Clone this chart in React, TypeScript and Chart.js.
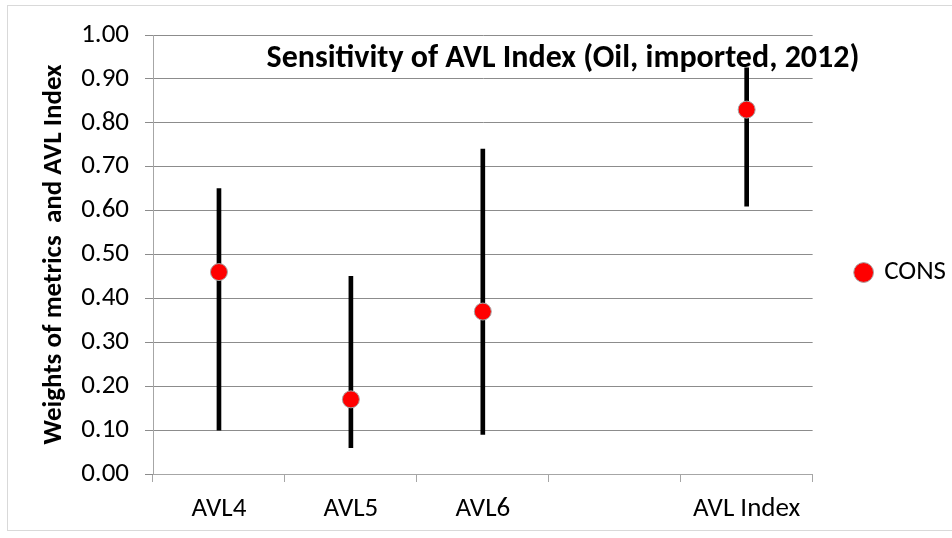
import React, { useEffect, useRef } from "react";
import { Chart, registerables } from "chart.js";

Chart.register(...registerables);

const categories = ["AVL4", "AVL5", "AVL6", "", "AVL Index"];
const consValues = [0.46, 0.17, 0.37, null, 0.83];
const rangeLow = [0.10, 0.06, 0.09, null, 0.61];
const rangeHigh = [0.65, 0.45, 0.74, null, 0.925];
const yTicks = [0, 0.1, 0.2, 0.3, 0.4, 0.5, 0.6, 0.7, 0.8, 0.9, 1.0];
const chartTitle = "Sensitivity of AVL Index (Oil, imported, 2012)";
const yTitle = "Weights of metrics  and AVL Index";
const seriesName = "CONS";

const FONT = "Carlito, Calibri, Lato, sans-serif";

const titlePlugin = {
  id: "innerTitle",
  afterLayout(chart: any) {
    const lg = chart.legend;
    if (lg) {
      lg.left += 34;
      lg.right += 34;
      lg.bottom -= 28;
    }
  },
  afterDraw(chart: any) {
    const { ctx, chartArea } = chart;
    ctx.save();
    ctx.font = `bold 32px ${FONT}`;
    ctx.fillStyle = "#000";
    ctx.textAlign = "center";
    ctx.textBaseline = "middle";
    ctx.fillText(chartTitle, 563, chartArea.top + 24);
    ctx.restore();
  },
};

export default function App() {
  const ref = useRef<HTMLCanvasElement>(null);
  useEffect(() => {
    const ranges = rangeLow.map((lo, i) =>
      lo === null || rangeHigh[i] === null ? null : [lo, rangeHigh[i]]
    );
    const chart = new Chart(ref.current as HTMLCanvasElement, {
      type: "bar",
      data: {
        labels: categories,
        datasets: [
          {
            type: "line",
            label: seriesName,
            data: consValues as any,
            showLine: false,
            pointRadius: 8.5,
            pointHoverRadius: 8.5,
            pointBackgroundColor: "#ff0000",
            pointBorderColor: "#a6a6a6",
            pointBorderWidth: 1,
            backgroundColor: "#ff0000",
            borderColor: "#a6a6a6",
            borderWidth: 1,
            order: 0,
          } as any,
          {
            type: "bar",
            label: "range",
            data: ranges as any,
            backgroundColor: "#000",
            barThickness: 4,
            grouped: false,
            order: 1,
          } as any,
        ],
      },
      options: {
        animation: false,
        responsive: false,
        maintainAspectRatio: false,
        layout: { padding: { top: 35, right: 30, bottom: 0, left: 0 } },
        plugins: {
          tooltip: { enabled: false },
          title: { display: false },
          legend: {
            position: "right",
            labels: {
              usePointStyle: true,
              pointStyle: "circle",
              boxWidth: 14,
              boxHeight: 14,
              padding: 10,
              color: "#000",
              font: { family: FONT, size: 27 },
              filter: (item: any) => item.text === seriesName,
            },
          },
        },
        scales: {
          x: {
            offset: true,
            afterFit: (s: any) => {
              s.height = 64;
            },
            grid: {
              display: true,
              offset: true,
              drawOnChartArea: false,
              drawTicks: true,
              tickLength: 8,
              color: "#a6a6a6",
            },
            border: { color: "#a6a6a6", width: 1 },
            ticks: {
              color: "#000",
              padding: 11,
              font: { family: FONT, size: 27 },
              maxRotation: 0,
            },
          },
          y: {
            min: 0,
            max: 1,
            afterFit: (s: any) => {
              s.width = 153;
            },
            afterBuildTicks: (s: any) => {
              s.ticks = yTicks.map((v) => ({ value: v }));
            },
            ticks: {
              color: "#000",
              padding: 16,
              font: { family: FONT, size: 27 },
              callback: (v: any) => Number(v).toFixed(2),
            },
            grid: {
              color: "#8c8c8c",
              tickLength: 8,
            },
            border: { color: "#a6a6a6", width: 1 },
            title: {
              display: true,
              text: yTitle,
              color: "#000",
              font: { family: FONT, size: 27, weight: "bold" },
              padding: { top: 38, bottom: 0 },
            },
          },
        },
      },
      plugins: [titlePlugin],
    });
    return () => chart.destroy();
  }, []);
  return (
    <div style={{ position: "fixed", left: 0, top: 0, width: 952, height: 538, background: "#fff" }}>
      <div
        style={{
          position: "absolute",
          left: 7,
          top: 5,
          width: 960,
          height: 526,
          border: "1px solid #d9d9d9",
          boxSizing: "border-box",
        }}
      />
      <canvas ref={ref} width={952} height={538} style={{ position: "absolute", left: 0, top: 0 }} />
    </div>
  );
}
